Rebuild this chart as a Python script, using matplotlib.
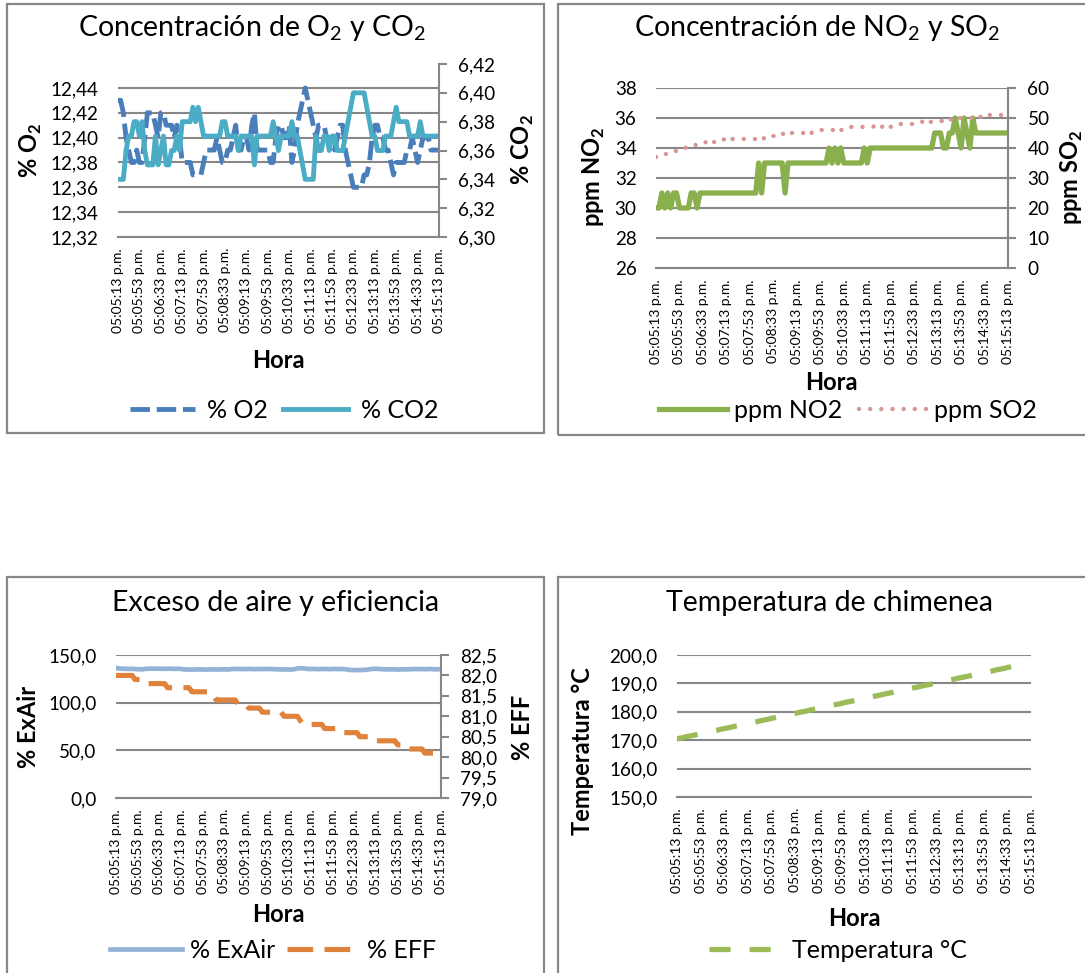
import numpy as np
import matplotlib
matplotlib.use('Agg')
import matplotlib.pyplot as plt
from matplotlib.patches import Rectangle

# figure style
plt.rcParams['font.family'] = ['Lato', 'DejaVu Sans']
plt.rcParams['mathtext.fontset'] = 'custom'
plt.rcParams['mathtext.rm'] = 'Lato'
plt.rcParams['mathtext.bf'] = 'Lato:bold'

W, H = 1085, 973

# ---- data (one reading every 5 s, 05:05:13 -> 05:15:13) ----
time_labels = ['05:05:13 p.m.', '05:05:53 p.m.', '05:06:33 p.m.', '05:07:13 p.m.',
               '05:07:53 p.m.', '05:08:33 p.m.', '05:09:13 p.m.', '05:09:53 p.m.',
               '05:10:33 p.m.', '05:11:13 p.m.', '05:11:53 p.m.', '05:12:33 p.m.',
               '05:13:13 p.m.', '05:13:53 p.m.', '05:14:33 p.m.', '05:15:13 p.m.']

o2 = [12.43, 12.43, 12.42, 12.40, 12.39, 12.38, 12.38, 12.39, 12.38, 12.38,
      12.40, 12.42, 12.42, 12.42, 12.41, 12.40, 12.42, 12.42, 12.41, 12.41,
      12.41, 12.40, 12.41, 12.40, 12.38, 12.38, 12.38, 12.38, 12.37, 12.37,
      12.37, 12.37, 12.38, 12.39, 12.39, 12.39, 12.39, 12.40, 12.39, 12.38,
      12.38, 12.39, 12.39, 12.40, 12.41, 12.39, 12.39, 12.40, 12.40, 12.39,
      12.41, 12.42, 12.39, 12.39, 12.39, 12.39, 12.39, 12.38, 12.38, 12.40,
      12.41, 12.41, 12.40, 12.40, 12.41, 12.38, 12.39, 12.41, 12.42, 12.43,
      12.44, 12.43, 12.42, 12.41, 12.40, 12.41, 12.41, 12.41, 12.40, 12.40,
      12.40, 12.39, 12.40, 12.41, 12.41, 12.39, 12.38, 12.37, 12.36, 12.36,
      12.36, 12.36, 12.37, 12.37, 12.38, 12.40, 12.41, 12.41, 12.40, 12.40,
      12.39, 12.39, 12.38, 12.37, 12.38, 12.38, 12.38, 12.38, 12.39, 12.39,
      12.40, 12.39, 12.38, 12.39, 12.40, 12.40, 12.40, 12.39, 12.39, 12.39,
      12.39]

co2 = [6.34, 6.34, 6.34, 6.36, 6.37, 6.37, 6.38, 6.38, 6.37, 6.38,
       6.36, 6.35, 6.35, 6.35, 6.37, 6.35, 6.36, 6.37, 6.35, 6.35,
       6.36, 6.36, 6.37, 6.36, 6.38, 6.38, 6.38, 6.38, 6.39, 6.38,
       6.39, 6.38, 6.37, 6.37, 6.37, 6.37, 6.37, 6.37, 6.37, 6.38,
       6.38, 6.37, 6.37, 6.37, 6.37, 6.36, 6.37, 6.37, 6.37, 6.37,
       6.37, 6.35, 6.37, 6.37, 6.37, 6.37, 6.37, 6.37, 6.38, 6.37,
       6.36, 6.37, 6.37, 6.37, 6.37, 6.38, 6.37, 6.37, 6.36, 6.35,
       6.34, 6.34, 6.34, 6.34, 6.37, 6.36, 6.36, 6.37, 6.37, 6.36,
       6.37, 6.37, 6.36, 6.36, 6.36, 6.37, 6.38, 6.39, 6.40, 6.40,
       6.40, 6.40, 6.40, 6.39, 6.38, 6.37, 6.37, 6.36, 6.36, 6.36,
       6.37, 6.37, 6.37, 6.38, 6.39, 6.38, 6.38, 6.38, 6.38, 6.37,
       6.37, 6.37, 6.37, 6.38, 6.37, 6.37, 6.37, 6.37, 6.37, 6.37,
       6.37]

no2 = [30, 30, 31, 30, 31, 30, 31, 31, 30, 30,
       30, 30, 31, 31, 30, 31, 31, 31, 31, 31,
       31, 31, 31, 31, 31, 31, 31, 31, 31, 31,
       31, 31, 31, 31, 31, 33, 31, 33, 33, 33,
       33, 33, 33, 33, 31, 33, 33, 33, 33, 33,
       33, 33, 33, 33, 33, 33, 33, 33, 33, 34,
       33, 34, 33, 34, 33, 33, 33, 33, 33, 33,
       33, 34, 33, 34, 34, 34, 34, 34, 34, 34,
       34, 34, 34, 34, 34, 34, 34, 34, 34, 34,
       34, 34, 34, 34, 34, 35, 35, 35, 34, 34,
       35, 35, 36, 35, 34, 36, 35, 34, 36, 35,
       35, 35, 35, 35, 35, 35, 35, 35, 35, 35,
       35]

so2 = [37, 37, 38, 38, 38, 39, 39, 39, 40, 40,
       40, 41, 41, 41, 41, 41, 41, 42, 41, 42,
       42, 42, 42, 43, 42, 43, 43, 43, 43, 43,
       43, 43, 43, 43, 43, 43, 44, 43, 44, 44,
       44, 44, 44, 45, 44, 45, 45, 45, 45, 45,
       45, 45, 46, 45, 46, 46, 46, 46, 46, 46,
       46, 46, 47, 46, 46, 47, 47, 47, 47, 47,
       47, 47, 47, 47, 47, 48, 47, 47, 48, 48,
       47, 48, 48, 48, 48, 48, 48, 48, 48, 48,
       48, 49, 48, 48, 49, 49, 49, 49, 49, 49,
       50, 49, 50, 50, 50, 50, 50, 50, 50, 50,
       51, 50, 51, 51, 51, 51, 51, 51, 51, 51,
       51]

exair = [136.2, 136.0, 135.6, 135.5, 135.5, 135.4, 135.5, 135.3, 135.1, 135.0,
         135.0, 135.5, 135.6, 135.7, 135.6, 135.6, 135.7, 135.6, 135.5, 135.6,
         135.7, 135.6, 135.5, 135.6, 135.3, 134.9, 134.8, 134.8, 134.7, 134.8,
         134.8, 134.9, 134.8, 134.7, 134.8, 134.8, 134.9, 134.8, 134.8, 134.9,
         134.9, 134.8, 135.0, 135.3, 135.3, 135.4, 135.3, 135.2, 135.3, 135.4,
         135.3, 135.2, 135.3, 135.3, 135.2, 135.3, 135.4, 135.3, 135.2, 135.1,
         135.0, 134.8, 134.8, 134.9, 134.7, 134.8, 135.2, 135.8, 136.1, 136.0,
         135.7, 135.4, 135.3, 135.4, 135.3, 135.2, 135.3, 135.4, 135.3, 135.2,
         135.3, 135.4, 135.3, 135.2, 135.3, 135.0, 134.5, 134.2, 134.1, 134.2,
         134.2, 134.3, 134.4, 134.8, 135.2, 135.5, 135.6, 135.4, 135.2, 135.0,
         134.9, 134.9, 135.0, 134.9, 134.8, 134.9, 135.0, 134.9, 135.0, 135.2,
         135.3, 135.2, 135.3, 135.2, 135.1, 135.2, 135.3, 135.2, 135.0, 135.1,
         135.0]

eff = [82.0, 82.0, 82.0, 82.0, 82.0, 82.0, 82.0, 81.9, 81.9, 81.9,
       81.9, 81.8, 81.8, 81.8, 81.8, 81.8, 81.8, 81.8, 81.8, 81.7,
       81.7, 81.7, 81.7, 81.7, 81.7, 81.7, 81.7, 81.7, 81.6, 81.6,
       81.6, 81.6, 81.6, 81.6, 81.6, 81.5, 81.5, 81.4, 81.4, 81.4,
       81.4, 81.4, 81.4, 81.4, 81.4, 81.3, 81.3, 81.3, 81.3, 81.2,
       81.2, 81.2, 81.2, 81.2, 81.1, 81.1, 81.1, 81.1, 81.1, 81.1,
       81.1, 81.1, 81.0, 81.0, 81.0, 81.0, 81.0, 81.0, 80.9, 80.8,
       80.8, 80.8, 80.8, 80.8, 80.8, 80.8, 80.8, 80.7, 80.7, 80.7,
       80.7, 80.7, 80.6, 80.6, 80.6, 80.6, 80.6, 80.6, 80.6, 80.6,
       80.5, 80.5, 80.5, 80.5, 80.5, 80.5, 80.4, 80.4, 80.4, 80.4,
       80.4, 80.4, 80.4, 80.4, 80.3, 80.3, 80.3, 80.3, 80.2, 80.2,
       80.2, 80.2, 80.2, 80.2, 80.1, 80.1, 80.1, 80.1, 80.1, 80.1,
       80.1]

temp = [170.5, 170.7, 170.9, 171.2, 171.4, 171.6, 171.8, 172.1, 172.3, 172.5,
        172.7, 173.0, 173.2, 173.4, 173.6, 173.9, 174.1, 174.3, 174.5, 174.7,
        175.0, 175.2, 175.4, 175.6, 175.9, 176.1, 176.3, 176.5, 176.8, 177.0,
        177.2, 177.4, 177.7, 177.9, 178.1, 178.3, 178.6, 178.8, 179.0, 179.2,
        179.4, 179.7, 179.9, 180.1, 180.3, 180.6, 180.8, 181.0, 181.2, 181.5,
        181.7, 181.9, 182.1, 182.4, 182.6, 182.8, 183.0, 183.3, 183.5, 183.7,
        183.9, 184.1, 184.4, 184.6, 184.8, 185.0, 185.3, 185.5, 185.7, 185.9,
        186.2, 186.4, 186.6, 186.8, 187.1, 187.3, 187.5, 187.7, 187.9, 188.2,
        188.4, 188.6, 188.8, 189.1, 189.3, 189.5, 189.7, 190.0, 190.2, 190.4,
        190.6, 190.9, 191.1, 191.3, 191.5, 191.8, 192.0, 192.2, 192.4, 192.6,
        192.9, 193.1, 193.3, 193.5, 193.8, 194.0, 194.2, 194.4, 194.7, 194.9,
        195.1, 195.3, 195.6, 195.8, 196.0, np.nan, np.nan, np.nan, np.nan, np.nan,
        np.nan]

o2_ticks = ['12,32', '12,34', '12,36', '12,38', '12,40', '12,42', '12,44']
co2_ticks = ['6,30', '6,32', '6,34', '6,36', '6,38', '6,40', '6,42']
no2_ticks = ['26', '28', '30', '32', '34', '36', '38']
so2_ticks = ['0', '10', '20', '30', '40', '50', '60']
exair_ticks = ['0,0', '50,0', '100,0', '150,0']
eff_ticks = ['79,0', '79,5', '80,0', '80,5', '81,0', '81,5', '82,0', '82,5']
temp_ticks = ['150,0', '160,0', '170,0', '180,0', '190,0', '200,0']

GRID = '#878787'
TICK_FS = 13.6
XTICK_FS = 10
LAB_FS = 17
LEG_FS = 18
TITLE_FS = 20.5

x = np.arange(len(o2))
xt = np.arange(0, len(o2), 8)

fig = plt.figure(figsize=(W / 100, H / 100), dpi=100)


def px_axes(l, t, r, b):
    return fig.add_axes([l / W, 1 - b / H, (r - l) / W, (b - t) / H])


def ftext(xp, yp, s, **kw):
    fig.text(xp / W, 1 - yp / H, s, ha='center', va='center', **kw)


def style(ax, ticks, labels, ylim, twin=None, tlabels=None, tlim=None):
    ax.set_xlim(0, len(o2) - 1)
    ax.set_ylim(*ylim)
    ax.set_yticks(ticks, labels, fontsize=TICK_FS)
    ax.set_xticks(xt, time_labels, rotation=90, fontsize=XTICK_FS)
    ax.tick_params(axis='x', length=0, pad=8)
    ax.tick_params(axis='y', length=0, pad=14)
    ax.yaxis.grid(True, color=GRID, lw=1.5)
    ax.set_axisbelow(True)
    for sp in ('top', 'left', 'right'):
        ax.spines[sp].set_visible(False)
    ax.spines['bottom'].set_color(GRID)
    ax.spines['bottom'].set_linewidth(1.5)
    if twin is not None:
        twin.set_ylim(*tlim)
        twin.set_yticks(np.linspace(tlim[0], tlim[1], len(tlabels)), tlabels, fontsize=TICK_FS)
        twin.tick_params(axis='y', length=6, width=1.5, color=GRID, pad=8)
        for sp in ('top', 'left', 'bottom'):
            twin.spines[sp].set_visible(False)
        twin.spines['right'].set_color(GRID)
        twin.spines['right'].set_linewidth(1.5)


# panel frames
for (l, t, r, b) in [(7, 4, 544, 433), (558, 4, 1095, 435),
                     (7, 577, 544, 985), (558, 577, 1095, 985)]:
    fig.add_artist(Rectangle((l / W, 1 - b / H), (r - l) / W, (b - t) / H,
                             transform=fig.transFigure, fill=False,
                             edgecolor=GRID, lw=1.6))

# ---- O2 / CO2 ----
ax1 = px_axes(118, 64, 439, 237)
ax1b = ax1.twinx()
l1, = ax1.plot(x, o2, color='#4A7EBB', lw=3.5, dashes=(4.0, 1.4), label='% O2')
l2, = ax1b.plot(x, co2, color='#4BACC6', lw=3.5, label='% CO2')
style(ax1, [12.32, 12.34, 12.36, 12.38, 12.40, 12.42, 12.44], o2_ticks, (12.32, 12.4593),
      ax1b, co2_ticks, (6.30, 6.42))
ax1.legend(handles=[l1, l2], loc='center', bbox_to_anchor=(284 / W, 1 - 410 / H),
           bbox_transform=fig.transFigure, ncol=2, frameon=False, fontsize=LEG_FS,
           handlelength=2.6, handletextpad=0.5, columnspacing=0.6)
ftext(252, 28, r'Concentración de O$_\mathrm{2}$ y CO$_\mathrm{2}$', fontsize=TITLE_FS)
ftext(31, 150, r'% O$_\mathbf{2}$', fontsize=LAB_FS, fontweight='bold', rotation=90)
ftext(523, 150, r'% CO$_\mathbf{2}$', fontsize=LAB_FS, fontweight='bold', rotation=90)
ftext(278, 360, 'Hora', fontsize=LAB_FS, fontweight='bold')

# ---- NO2 / SO2 ----
ax2 = px_axes(656, 88, 1008, 268)
ax2b = ax2.twinx()
l3, = ax2.plot(x, no2, color='#8AAF4D', lw=3.8, label='ppm NO2')
l4, = ax2b.plot(x, so2, color='#D99694', lw=3.2, dashes=(0.01, 2.5),
                dash_capstyle='round', label='ppm SO2')
style(ax2, [26, 28, 30, 32, 34, 36, 38], no2_ticks, (26, 38),
      ax2b, so2_ticks, (0, 60))
ax2.legend(handles=[l3, l4], loc='center', bbox_to_anchor=(848 / W, 1 - 410 / H),
           bbox_transform=fig.transFigure, ncol=2, frameon=False, fontsize=LEG_FS,
           handlelength=2.75, handletextpad=0.25, columnspacing=0.7)
ftext(817, 28, r'Concentración de NO$_\mathrm{2}$ y SO$_\mathrm{2}$', fontsize=TITLE_FS)
ftext(594, 177, r'ppm NO$_\mathbf{2}$', fontsize=LAB_FS, fontweight='bold', rotation=90)
ftext(1072, 177, r'ppm SO$_\mathbf{2}$', fontsize=LAB_FS, fontweight='bold', rotation=90)
ftext(831, 383, 'Hora', fontsize=LAB_FS, fontweight='bold')

# ---- ExAir / EFF ----
ax3 = px_axes(116, 655, 441, 798)
ax3b = ax3.twinx()
l5, = ax3.plot(x, exair, color='#95B3D7', lw=3.4, label='% ExAir')
l6, = ax3b.plot(x, eff, color='#E1823C', lw=3.7, dashes=(5, 2.2), label='% EFF')
style(ax3, [0, 50, 100, 150], exair_ticks, (0, 150),
      ax3b, eff_ticks, (79.0, 82.5))
ax3.legend(handles=[l5, l6], loc='center', bbox_to_anchor=(273 / W, 1 - 950 / H),
           bbox_transform=fig.transFigure, ncol=2, frameon=False, fontsize=LEG_FS,
           handlelength=2.9, handletextpad=0.3, columnspacing=0.5)
ftext(276, 603, 'Exceso de aire y eficiencia', fontsize=TITLE_FS)
ftext(28, 727, '% ExAir', fontsize=LAB_FS, fontweight='bold', rotation=90)
ftext(523, 727, '% EFF', fontsize=LAB_FS, fontweight='bold', rotation=90)
ftext(278, 915, 'Hora', fontsize=LAB_FS, fontweight='bold')

# ---- Temperatura ----
ax4 = px_axes(677, 655, 1031, 797)
l7, = ax4.plot(x, temp, color='#9BBB59', lw=3.8, dashes=(4.0, 3.6), label='Temperatura °C')
style(ax4, [150, 160, 170, 180, 190, 200], temp_ticks, (150, 200))
ax4.legend(handles=[l7], loc='center', bbox_to_anchor=(838 / W, 1 - 950 / H),
           bbox_transform=fig.transFigure, frameon=False, fontsize=LEG_FS,
           handlelength=2.6, handletextpad=0.7)
ftext(830, 603, 'Temperatura de chimenea', fontsize=TITLE_FS)
ftext(583, 751, 'Temperatura °C', fontsize=LAB_FS, fontweight='bold', rotation=90)
ftext(854, 918, 'Hora', fontsize=LAB_FS, fontweight='bold')

fig.savefig('out.png', dpi=100, facecolor='white')
